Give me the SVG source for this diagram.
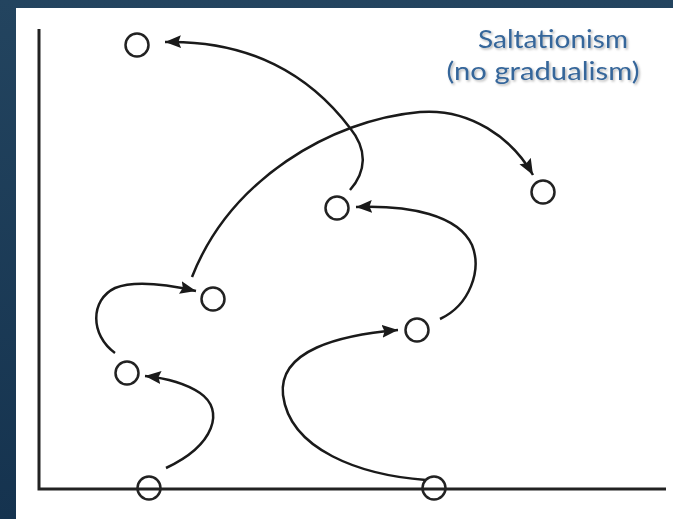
<svg xmlns="http://www.w3.org/2000/svg" width="673" height="519" viewBox="0 0 673 519">
<defs>
<linearGradient id="bg" x1="0" y1="0" x2="0" y2="1">
<stop offset="0" stop-color="#23445f"/>
<stop offset="1" stop-color="#15334f"/>
</linearGradient>
<marker id="arr" markerUnits="userSpaceOnUse" markerWidth="18" markerHeight="14" refX="16" refY="6.5" orient="auto">
<path d="M0,0 L16,6.5 L0,13 L2.5,6.5 z" fill="#1a1a1a"/>
</marker>
<filter id="sh" x="-10%" y="-20%" width="120%" height="150%">
<feDropShadow dx="1.5" dy="1.5" stdDeviation="1" flood-color="#000" flood-opacity="0.3"/>
</filter>
</defs>
<style>
.node{fill:none;stroke:#222;stroke-width:2.5}
.axis{fill:none;stroke:#222;stroke-width:3}
.edge{fill:none;stroke:#1a1a1a;stroke-width:2.5;marker-end:url(#arr)}
.lbl{font-family:Lato,"Open Sans",sans-serif;font-size:25px;fill:#36669a;text-anchor:middle;filter:url(#sh)}
</style>
<rect width="673" height="519" fill="url(#bg)"/>
<rect x="16" y="8" width="657" height="511" fill="#ffffff"/>
<g id="axes">
<path class="axis" d="M39,29 L39,489 L666,489"/>
</g>
<g id="label">
<text class="lbl" x="553" y="48" textLength="150" lengthAdjust="spacingAndGlyphs">Saltationism</text>
<text class="lbl" x="543" y="80" textLength="193" lengthAdjust="spacingAndGlyphs">(no gradualism)</text>
</g>
<g id="connectors">
<path class="edge" d="M166,468 C215,445 225,410 200,393 C185,383 165,378 145,376"/>
<path class="edge" d="M115,353 C90,335 90,300 115,288 C135,280 165,284 196,291"/>
<path class="edge" d="M192,277 C230,180 330,120 420,112 C470,108 512,138 533,175"/>
<path class="edge" d="M350,190 C366,172 368,150 350,128 C310,75 250,40 165,42"/>
<path class="edge" d="M440,319 C470,305 482,270 472,245 C458,215 410,205 356,207"/>
<path class="edge" d="M426,480 C360,475 290,450 283,395 C278,350 340,335 398,330"/>
</g>
<g id="n1"><circle class="node" cx="137" cy="45" r="11.5"/></g>
<g id="n2"><circle class="node" cx="337" cy="208" r="11.5"/></g>
<g id="n3"><circle class="node" cx="543" cy="192" r="11.5"/></g>
<g id="n4"><circle class="node" cx="213" cy="299" r="11.5"/></g>
<g id="n5"><circle class="node" cx="127" cy="373" r="11.5"/></g>
<g id="n6"><circle class="node" cx="417" cy="330" r="11.5"/></g>
<g id="n7"><circle class="node" cx="149" cy="488" r="11.5"/></g>
<g id="n8"><circle class="node" cx="434" cy="488" r="11.5"/></g>
</svg>
